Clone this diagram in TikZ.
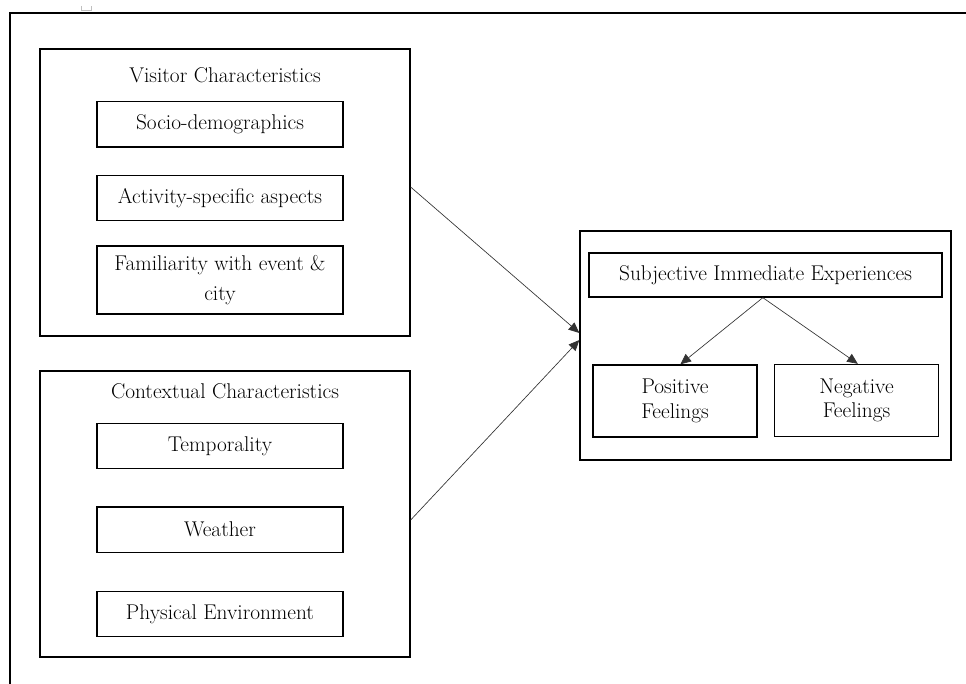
\documentclass[tikz,border=0pt]{standalone}
\usetikzlibrary{positioning, arrows.meta}

\begin{document}
\begin{tikzpicture}
    [
        x=0.75pt, y=-0.75pt,
        font=\fontsize{16}{18.5}\selectfont,
        frame_box/.style={rectangle, draw=black, line width=1pt, minimum width=277.5pt, inner sep=0pt},
        item_box/.style={rectangle, draw=black, line width=1pt, minimum width=184.5pt, minimum height=34pt, align=center, inner sep=2pt},
        feel_box/.style={rectangle, draw=black, line width=1pt, minimum width=123pt, minimum height=54pt, align=center},
        title_node/.style={inner sep=0pt},
        link/.style={-{Triangle[length=8pt, width=7pt]}, line width=0.5pt, color=black!80},
    ]
        \useasboundingbox (0,0) rectangle (966,684);
        \coordinate (page_top) at (966,13);
        \coordinate (page_corner) at (10,13);
        \coordinate (page_bottom) at (10,684);
        \draw[line width=1.1pt] (page_bottom) -- (page_corner) -- (page_top);
        \draw[lightgray, line width=0.6pt] (81,6) -- (81,10) -- (91,10) -- (91,6);

        \node[frame_box, minimum height=215.25pt] (visitor) at (225,192.5) {};
        \node[title_node] (visitor_title) at (225,75) {Visitor Characteristics};
        \node[item_box] (socio) at (220,124.5) {Socio-demographics};
        \node[item_box] (activity) at (220,198) {Activity-specific aspects};
        \node[item_box, minimum height=51pt] (familiar) at (220,280) {Familiarity with event \&\\[4pt] city};

        \node[frame_box, minimum height=214.5pt] (context) at (225,514) {};
        \node[title_node] (context_title) at (225,391) {Contextual Characteristics};
        \node[item_box] (temporal) at (220,446) {Temporality};
        \node[item_box] (weather) at (220,529.5) {Weather};
        \node[item_box] (physical) at (220,614) {Physical Environment};

        \node[frame_box, minimum width=278.25pt, minimum height=171.75pt] (outcome) at (765.5,345.5) {};
        \node[item_box, minimum width=264.75pt, minimum height=33pt] (subjective) at (765.5,275) {Subjective Immediate Experiences};
        \node[feel_box] (positive) at (675,401) {Positive\\Feelings};
        \node[feel_box] (negative) at (856.5,400.5) {Negative\\Feelings};

        \draw[link] ([yshift=4.1pt]visitor.east) to ([yshift=9.4pt]outcome.west) ;
        \draw[link] ([yshift=-4.5pt]context.east) to ([yshift=4.1pt]outcome.west) ;
        \draw[link] ([xshift=-2pt]subjective.south) to ([xshift=4pt]positive.north) ;
        \draw[link] ([xshift=-2pt]subjective.south) to ([xshift=1pt]negative.north) ;
    \end{tikzpicture}
\end{document}
